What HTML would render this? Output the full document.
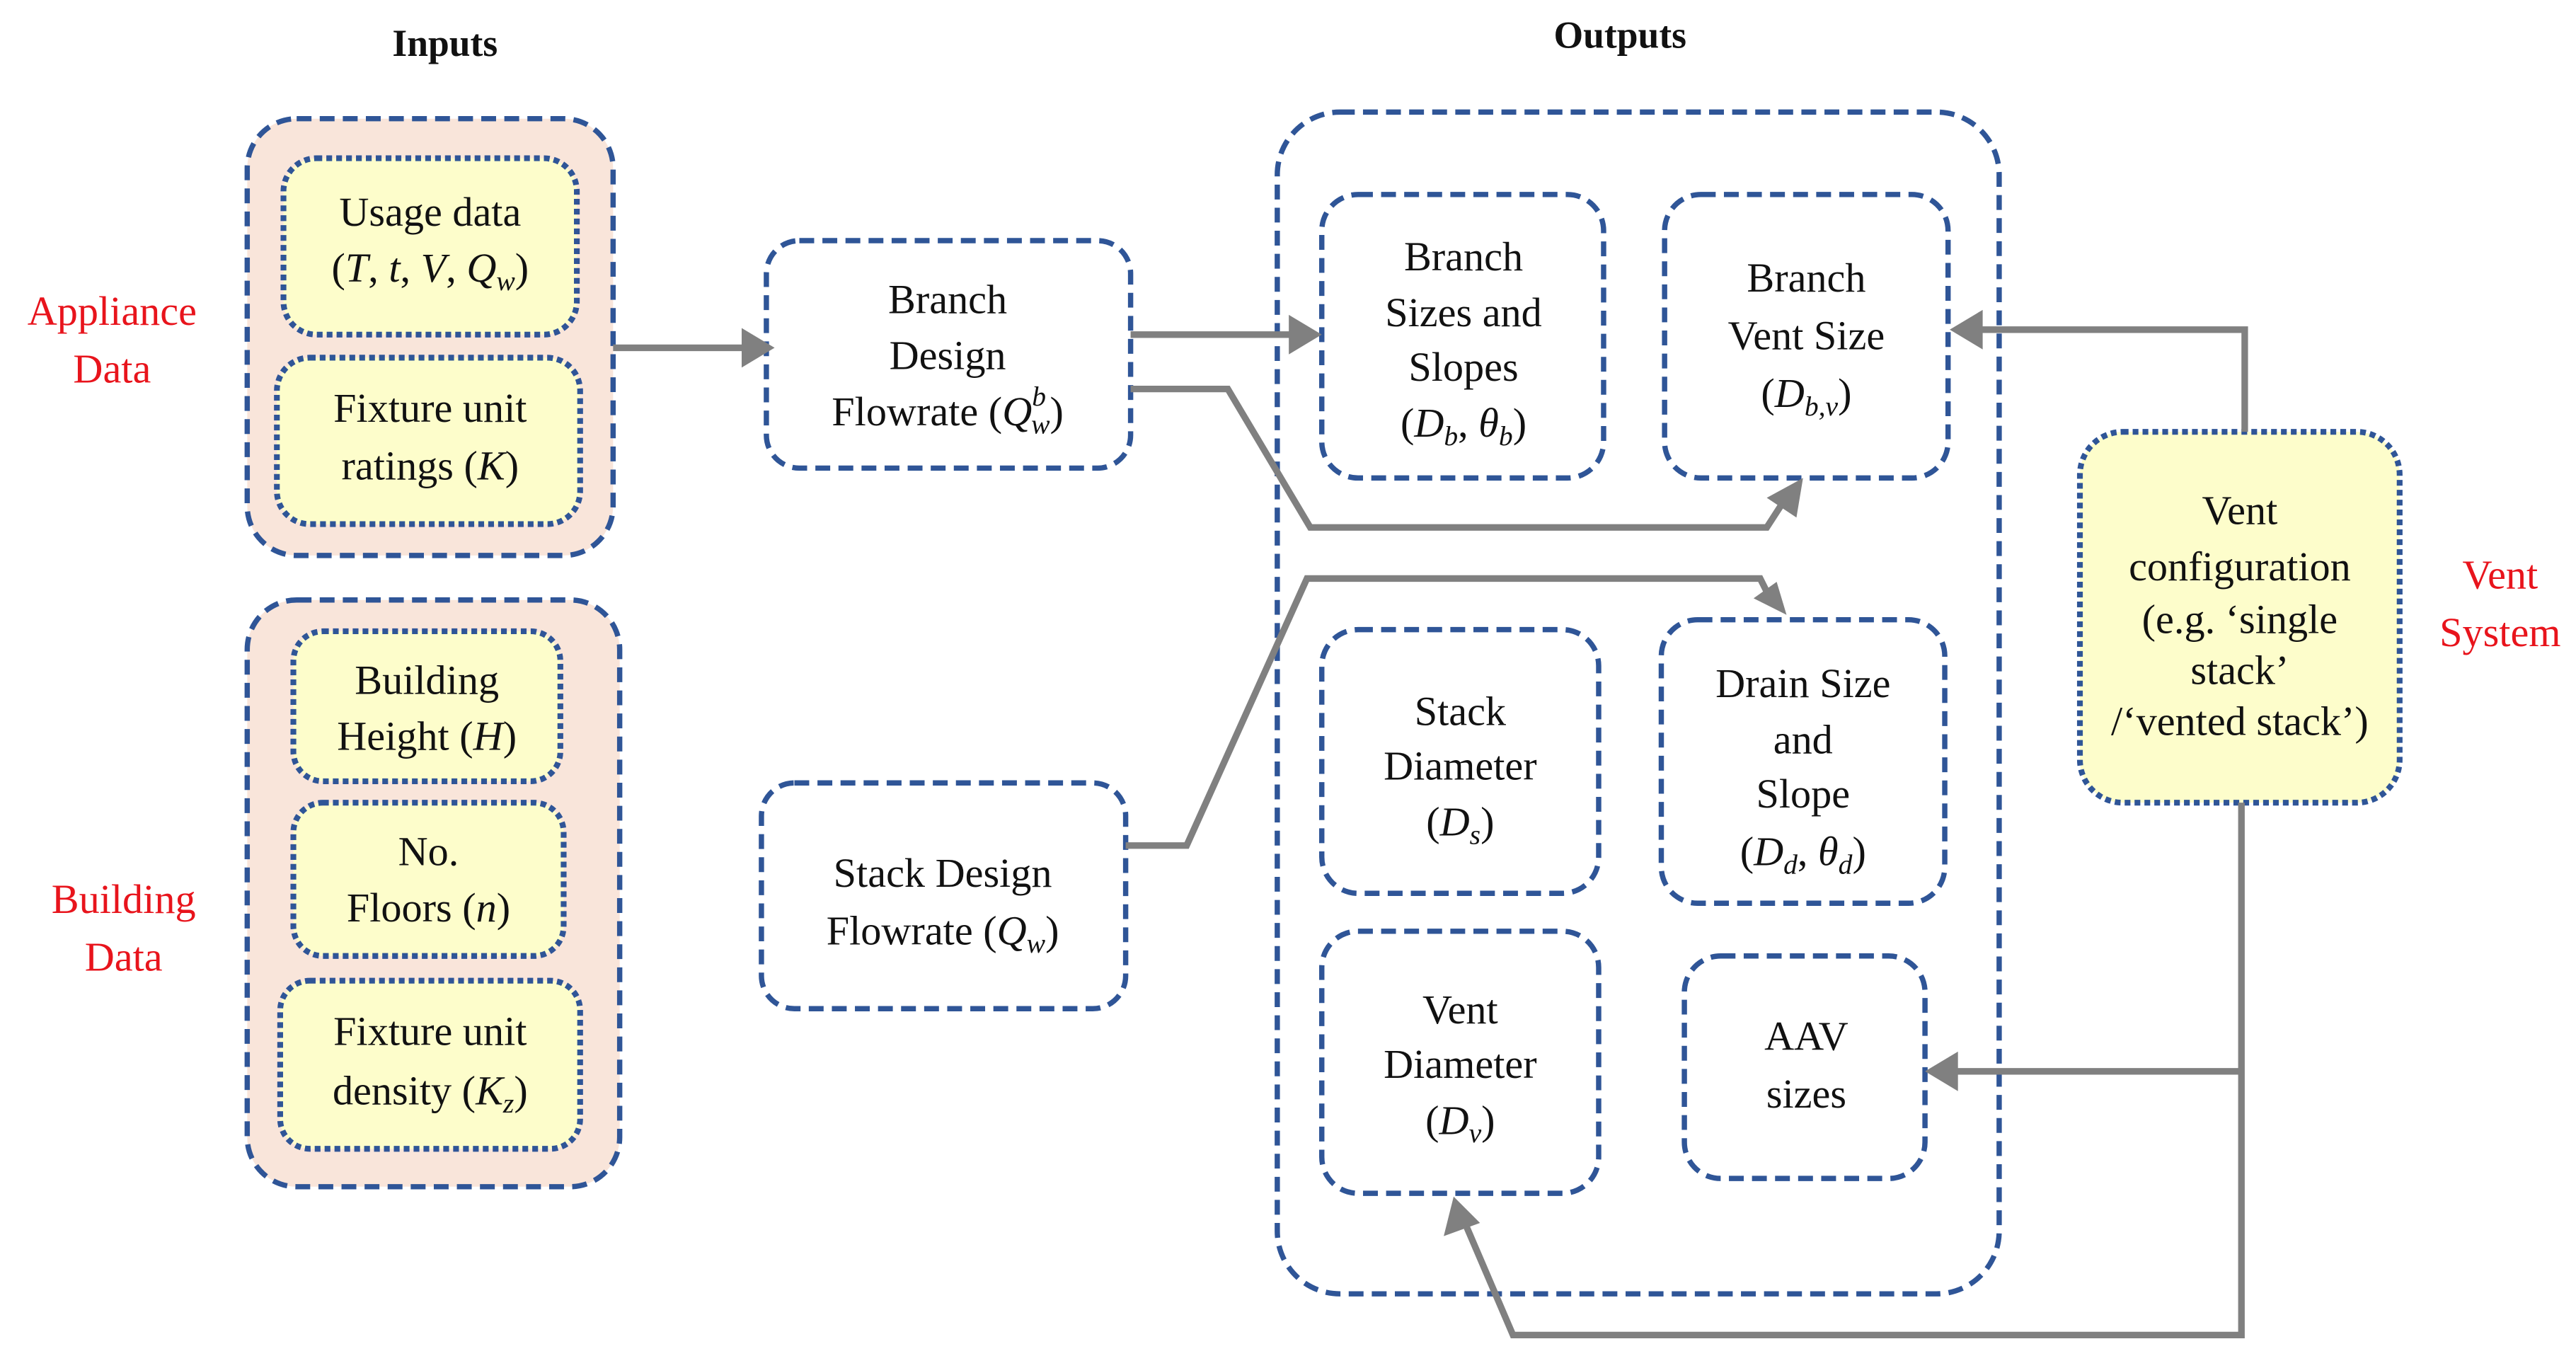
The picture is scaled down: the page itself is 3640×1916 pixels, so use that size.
<!DOCTYPE html>
<html><head><meta charset="utf-8"><style>
html,body{margin:0;padding:0;background:#fff;}
svg{display:block;}
svg text{font-family:"Liberation Serif","DejaVu Serif",serif !important;font-size:25px;fill:#111;text-anchor:middle;}
.r{fill:#e8141c;}
.b{font-weight:bold;font-size:23px;}
.box{fill:#fff;stroke:#2f5597;stroke-width:3.2;stroke-dasharray:9 5;}
.outer{fill:#f9e5da;stroke:#2f5597;stroke-width:3.2;stroke-dasharray:9 5;}
.inner{fill:#fdfdcb;stroke:#2f5597;stroke-width:3.5;stroke-dasharray:3.5 2.5;}
.ln{fill:none;stroke:#808080;stroke-width:4;}
.ah{fill:#808080;}
</style></head><body>
<svg width="3640" height="1916" viewBox="0 0 1563 822.7" xmlns="http://www.w3.org/2000/svg" font-family="Liberation Serif, serif">
<g font-family="Liberation Serif, serif">
<text class="b" x="270" y="34">Inputs</text>
<text class="b" x="983" y="29">Outputs</text>

<rect class="outer" x="150" y="72" width="222" height="265" rx="30"/>
<rect class="inner" x="172" y="96" width="178" height="107" rx="20"/>
<rect class="inner" x="168" y="217" width="184" height="101" rx="20"/>
<rect class="outer" x="150" y="364" width="226" height="356" rx="30"/>
<rect class="inner" x="178" y="383" width="162" height="91" rx="18"/>
<rect class="inner" x="178" y="487" width="164" height="93" rx="18"/>
<rect class="inner" x="170" y="595" width="182" height="102" rx="18"/>

<text x="261" y="137">Usage data</text>
<text x="261" y="171">(<tspan font-style="italic">T</tspan>, <tspan font-style="italic">t</tspan>, <tspan font-style="italic">V</tspan>, <tspan font-style="italic">Q<tspan font-size="17" dy="5">w</tspan></tspan><tspan dy="-5">)</tspan></text>
<text x="261" y="256">Fixture unit</text>
<text x="261" y="291">ratings (<tspan font-style="italic">K</tspan>)</text>
<text x="259" y="421">Building</text>
<text x="259" y="455">Height  (<tspan font-style="italic">H</tspan>)</text>
<text x="260" y="525">No.</text>
<text x="260" y="559">Floors (<tspan font-style="italic">n</tspan>)</text>
<text x="261" y="634">Fixture unit</text>
<text x="261" y="670">density (<tspan font-style="italic">K<tspan font-size="17" dy="5">z</tspan></tspan><tspan dy="-5">)</tspan></text>

<text class="r" x="68" y="197">Appliance</text>
<text class="r" x="68" y="232">Data</text>
<text class="r" x="75" y="554">Building</text>
<text class="r" x="75" y="589">Data</text>
<text class="r" x="1517" y="357">Vent</text>
<text class="r" x="1517" y="392">System</text>

<rect class="box" x="465" y="146" width="221" height="138" rx="20"/>
<text x="575" y="190">Branch</text>
<text x="575" y="224">Design</text>
<text x="575" y="258">Flowrate (<tspan font-style="italic">Q<tspan font-size="17" dy="-12">b</tspan><tspan font-size="17" dx="-9" dy="17">w</tspan></tspan><tspan dy="-5">)</tspan></text>

<rect class="box" x="462" y="475" width="221" height="137" rx="20"/>
<text x="572" y="538">Stack Design</text>
<text x="572" y="573">Flowrate (<tspan font-style="italic">Q<tspan font-size="17" dy="5">w</tspan></tspan><tspan dy="-5">)</tspan></text>

<rect class="box" x="775" y="68" width="438" height="717" rx="38"/>
<rect class="box" x="802" y="118" width="171" height="172" rx="22"/>
<text x="888" y="164">Branch</text>
<text x="888" y="198">Sizes and</text>
<text x="888" y="231">Slopes</text>
<text x="888" y="265">(<tspan font-style="italic">D<tspan font-size="17" dy="5">b</tspan></tspan><tspan dy="-5">, </tspan><tspan font-style="italic">θ<tspan font-size="17" dy="5">b</tspan></tspan><tspan dy="-5">)</tspan></text>
<rect class="box" x="1010" y="118" width="172" height="172" rx="22"/>
<text x="1096" y="177">Branch</text>
<text x="1096" y="212">Vent Size</text>
<text x="1096" y="247">(<tspan font-style="italic">D<tspan font-size="17" dy="5">b,v</tspan></tspan><tspan dy="-5">)</tspan></text>
<rect class="box" x="802" y="382" width="168" height="160" rx="22"/>
<text x="886" y="440">Stack</text>
<text x="886" y="473">Diameter</text>
<text x="886" y="507">(<tspan font-style="italic">D<tspan font-size="17" dy="5">s</tspan></tspan><tspan dy="-5">)</tspan></text>
<rect class="box" x="1008" y="376" width="172" height="172" rx="22"/>
<text x="1094" y="423">Drain Size</text>
<text x="1094" y="457">and</text>
<text x="1094" y="490">Slope</text>
<text x="1094" y="525">(<tspan font-style="italic">D<tspan font-size="17" dy="5">d</tspan></tspan><tspan dy="-5">, </tspan><tspan font-style="italic">θ<tspan font-size="17" dy="5">d</tspan></tspan><tspan dy="-5">)</tspan></text>
<rect class="box" x="802" y="565" width="168" height="159" rx="22"/>
<text x="886" y="621">Vent</text>
<text x="886" y="654">Diameter</text>
<text x="886" y="688">(<tspan font-style="italic">D<tspan font-size="17" dy="5">v</tspan></tspan><tspan dy="-5">)</tspan></text>
<rect class="box" x="1022" y="580" width="146" height="135" rx="22"/>
<text x="1096" y="637">AAV</text>
<text x="1096" y="672">sizes</text>

<rect class="inner" x="1262" y="262" width="194" height="225" rx="26"/>
<text x="1359" y="318">Vent</text>
<text x="1359" y="352">configuration</text>
<text x="1359" y="384">(e.g. ‘single</text>
<text x="1359" y="415">stack’</text>
<text x="1359" y="446">/‘vented stack’)</text>

<path class="ln" d="M372 211H452"/><path class="ah" d="M470 211L450 199V223Z"/>
<path class="ln" d="M686 203H784"/><path class="ah" d="M802 203L782 191V215Z"/>
<path class="ln" d="M686 236H745L795 320H1072L1083 303"/><path class="ah" d="M1094 290L1072 302L1090 314Z"/>
<path class="ln" d="M683 513H720L793 351H1068L1073 361"/><path class="ah" d="M1084 373L1064 363L1078 353Z"/>
<path class="ln" d="M1362 262V200H1200"/><path class="ah" d="M1183 200L1203 188V212Z"/>
<path class="ln" d="M1360 487V810H918L888 740"/><path class="ah" d="M882 726L876 750L898 742Z"/>
<path class="ln" d="M1360 650H1186"/><path class="ah" d="M1168 650L1188 638V662Z"/>
</g>
</svg>
</body></html>
